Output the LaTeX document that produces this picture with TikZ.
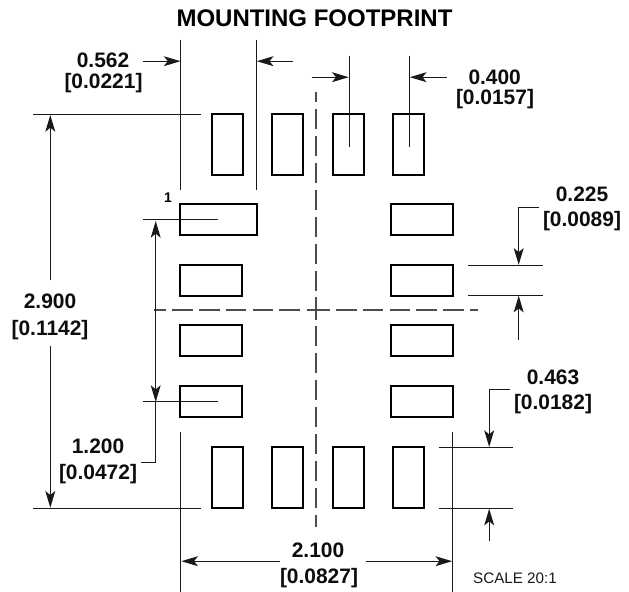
\documentclass[tikz,border=0pt]{standalone}
\usepackage{fontspec}
\setmainfont{Liberation Sans}
\usetikzlibrary{arrows.meta}
\tikzset{
  pad/.style={draw=black,line width=1.5pt,line join=miter},
  dimline/.style={draw=black!90,line width=0.85pt},
  dimarrow/.style={dimline,-{Stealth[length=12.5pt,width=7.4pt,inset=3pt]}},
  centerv/.style={draw=black!70,line width=0.85pt,dash pattern=on 15pt off 5.25pt},
  centerh/.style={draw=black!70,line width=0.85pt,dash pattern=on 15.4pt off 4.7pt},
  dimtext/.style={inner sep=0pt,anchor=center,font=\fontsize{15.7}{18}\selectfont\bfseries,text=black!95},
  titletext/.style={inner sep=0pt,anchor=center,font=\fontsize{18}{20}\selectfont\bfseries},
  scaletext/.style={inner sep=0pt,anchor=center,font=\fontsize{11.4}{13}\selectfont,text=black!90},
  pinlabel/.style={inner sep=0pt,anchor=center,font=\fontsize{10.5}{12}\selectfont\bfseries},
}
\begin{document}
\begin{tikzpicture}[x=0.75pt,y=-0.75pt]
\useasboundingbox[fill=white] (0,0) rectangle (629,592);
% pads
\foreach \n/\a/\b in {1/212/243,2/272/303,3/333/364,4/393/424}{
  \draw[pad] (\a,114) rectangle (\b,175);
  \draw[pad] (\a,447) rectangle (\b,508);
}
\draw[pad] (180,204) rectangle (257,235);
\draw[pad] (180,265) rectangle (242,296);
\draw[pad] (180,325) rectangle (242,356);
\draw[pad] (180,386) rectangle (242,417);
\draw[pad] (391,204) rectangle (453,235);
\draw[pad] (391,265) rectangle (453,296);
\draw[pad] (391,325) rectangle (453,356);
\draw[pad] (391,386) rectangle (453,417);
% centre lines
\draw[centerv] (316,291) -- (316,92);
\draw[centerv] (316,326) -- (316,527);
\draw[dimline,black!70] (316,297) -- (316,319.5);
\draw[centerh] (300,310) -- (154,310);
\draw[centerh] (336,310) -- (478,310);
\draw[dimline,black!70] (306.5,310) -- (330,310);
% extension lines
\draw[dimline] (180.8,40) -- (180.8,190);
\draw[dimline] (256.3,40) -- (256.3,190);
\draw[dimline] (349.2,56) -- (349.2,146.7);
\draw[dimline] (409.3,56) -- (409.3,146.7);
\draw[dimline] (33,114.7) -- (201,114.7);
\draw[dimline] (33,508.2) -- (201,508.2);
\draw[dimline] (143,219.2) -- (218,219.2);
\draw[dimline] (143,401.3) -- (218,401.3);
\draw[dimline] (180.8,432) -- (180.8,592);
\draw[dimline] (452.7,432) -- (452.7,592);
\draw[dimline] (468,265.2) -- (542.7,265.2);
\draw[dimline] (468,295.2) -- (542.7,295.2);
\draw[dimline] (438.7,447.3) -- (513.3,447.3);
\draw[dimline] (438.7,508.2) -- (513.3,508.2);
% arrows
\draw[dimarrow] (143,61.2) -- (180.5,61.2);
\draw[dimarrow] (293,61.2) -- (256.8,61.2);
\draw[dimarrow] (311.5,77.2) -- (348.7,77.2);
\draw[dimarrow] (446.7,77.2) -- (409.8,77.2);
\draw[dimarrow] (50.3,280) -- (50.3,115);
\draw[dimarrow] (50.3,346) -- (50.3,507.7);
\draw[dimarrow] (155.7,300) -- (155.7,221);
\draw[dimarrow] (155.7,300) -- (155.7,402);
\draw[dimline] (141,462.2) -- (155.7,462.2) -- (155.7,401);
\draw[dimarrow] (279.5,561.2) -- (181.3,561.2);
\draw[dimarrow] (365.7,561.2) -- (452.2,561.2);
\draw[dimarrow] (539,207.2) -- (518.7,207.2) -- (518.7,264.8);
\draw[dimarrow] (518.7,340) -- (518.7,295.7);
\draw[dimarrow] (510,389.7) -- (489.2,389.7) -- (489.2,447);
\draw[dimarrow] (489.2,540.7) -- (489.2,508.7);
% text
\node[titletext] (title) at (314.5,18.5) {MOUNTING FOOTPRINT};
\node[dimtext] (a1) at (103,60) {0.562};
\node[dimtext] (a2) at (103.5,83) {[0.0221]};
\node[dimtext] (b1) at (494.7,77) {0.400};
\node[dimtext] (b2) at (495,99) {[0.0157]};
\node[dimtext] (c1) at (582,194) {0.225};
\node[dimtext] (c2) at (582,221) {[0.0089]};
\node[dimtext] (d1) at (50,301) {2.900};
\node[dimtext] (d2) at (50,330) {[0.1142]};
\node[dimtext] (e1) at (98,446) {1.200};
\node[dimtext] (e2) at (98,474) {[0.0472]};
\node[dimtext] (f1) at (553,377) {0.463};
\node[dimtext] (f2) at (553,404) {[0.0182]};
\node[dimtext] (g1) at (318,550) {2.100};
\node[dimtext] (g2) at (319,578) {[0.0827]};
\node[scaletext] (s) at (515,578) {SCALE 20:1};
\node[pinlabel] (p) at (168,197.5) {1};
\end{tikzpicture}
\end{document}
